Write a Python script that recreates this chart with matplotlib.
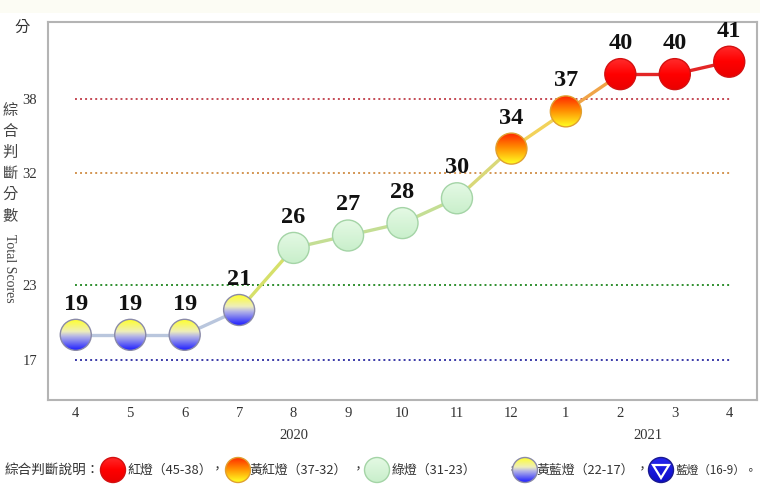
import numpy as np
import matplotlib
matplotlib.use('Agg')
import matplotlib.pyplot as plt
from matplotlib.patches import Ellipse, Polygon, Rectangle
from matplotlib.colors import to_rgb

# data
months = ['4', '5', '6', '7', '8', '9', '10', '11', '12', '1', '2', '3', '4']
scores = [19, 19, 19, 21, 26, 27, 28, 30, 34, 37, 40, 40, 41]
lights = ['yblue', 'yblue', 'yblue', 'yblue', 'green', 'green', 'green', 'green',
          'orange', 'orange', 'red', 'red', 'red']
seg_colors = ['#b9c6dd', '#b9c6dd', '#b9c6dd', '#d6e06a', '#c4de94', '#c4de94',
              '#c4de94', '#d9d878', '#f2d25a', '#f0a448', '#e32626', '#e32626']
years = ['2020', '2021']
year_pos = [4, 10.5]
thresholds = [38, 32, 23, 17]
thr_colors = ['#c44a55', '#d39552', '#2f8f2f', '#3a3aa8']
legend_items = [('red', '紅燈（45-38）'), ('orange', '黃紅燈（37-32）'),
                ('green', '綠燈（31-23）'), ('yblue', '黃藍燈（22-17）'),
                ('blue', '藍燈（16-9）。')]

stops = {
    'red': [(0, '#ff2a2a'), (0.5, '#ff0000'), (1, '#ea0000')],
    'orange': [(0, '#ff2800'), (0.45, '#ff8a00'), (1, '#ffff22')],
    'green': [(0, '#e4f9e4'), (1, '#c9efcb')],
    'yblue': [(0, '#ffff2a'), (0.4, '#eeeebb'), (0.55, '#b8b8e6'), (1, '#2222ff')],
    'blue': [(0, '#2626f0'), (1, '#0c0cc8')],
}
edges = {'red': '#d41010', 'orange': '#e0a030', 'green': '#a4d4a6',
         'yblue': '#8a8aa8', 'blue': '#1a1a90'}


def grad_img(kind, n=64):
    pos = [p for p, c in stops[kind]]
    cols = np.array([to_rgb(c) for p, c in stops[kind]])
    t = np.linspace(0, 1, n)
    img = np.stack([np.interp(t, pos, cols[:, i]) for i in range(3)], axis=-1)
    return img.reshape(n, 1, 3)


def grad_circle(ax, cx, cy, rx, ry, kind, z=5):
    im = ax.imshow(grad_img(kind), extent=(cx - rx, cx + rx, cy - ry, cy + ry),
                   origin='upper', aspect='auto', interpolation='bilinear', zorder=z)
    clip = Ellipse((cx, cy), 2 * rx, 2 * ry, transform=ax.transData)
    im.set_clip_path(clip)
    ax.add_patch(Ellipse((cx, cy), 2 * rx, 2 * ry, facecolor='none',
                         edgecolor=edges[kind], lw=1.0, zorder=z + 0.1))


plt.rcParams['font.family'] = ['Liberation Serif', 'DejaVu Serif']
fig = plt.figure(figsize=(7.6, 4.88), dpi=100)
fig.patches.append(Rectangle((0, 1 - 13 / 488), 1, 13 / 488, transform=fig.transFigure,
                             facecolor='#fcfcf4', edgecolor='none', zorder=0))

ax = fig.add_axes([48 / 760, 1 - 400 / 488, 709 / 760, 378 / 488])
xlim = (-0.51, 12.51)
ylim = (13.75, 44.2)

x = np.arange(len(scores))
for i in range(len(scores) - 1):
    ax.plot(x[i:i + 2], scores[i:i + 2], color=seg_colors[i], lw=2.4,
            solid_capstyle='round', zorder=3)

for t, c in zip(thresholds, thr_colors):
    ax.hlines(t, -0.02, 12.02, colors=c, linestyles=(0, (1, 1.6)), lw=1.4, zorder=2)

rx = 15.5 / 54.4
ry = 15.5 / 12.42
for xi, s, k in zip(x, scores, lights):
    grad_circle(ax, xi, s, rx, ry, k)
    ax.annotate(str(s), (xi, s), xytext=(0, 22), textcoords='offset points',
                ha='center', va='center', fontsize=17.5, fontweight='bold',
                color='#111111', zorder=6)

ax.set_xlim(*xlim)
ax.set_ylim(*ylim)
ax.set_xticks(x)
ax.set_xticklabels(months)
ax.set_yticks(thresholds)
ax.set_yticklabels([str(t) for t in thresholds])
ax.tick_params(length=0, labelsize=10.5, colors='#333333')
ax.tick_params(axis='x', pad=5)
ax.tick_params(axis='y', pad=8)
for sp in ax.spines.values():
    sp.set_color('#b4b4b4')
    sp.set_linewidth(1.5)

for yr, p in zip(years, year_pos):
    ax.text(p, -0.095, yr, transform=ax.get_xaxis_transform(), ha='center', va='center',
            fontsize=10.5, color='#333333')

fig.text(22 / 760, 1 - 27 / 488, '分', ha='center', va='center', fontsize=11,
         color='#333333', family=['Noto Sans CJK TC'])
fig.text(10 / 760, 1 - 163 / 488, '\n'.join('綜合判斷分數'), ha='center', va='center',
         fontsize=11, color='#444444', family=['Noto Sans CJK TC'], linespacing=1.3)
fig.text(9 / 760, 1 - 268 / 488, 'Total Scores', ha='center', va='center',
         rotation=-90, fontsize=10, color='#444444')

# legend row
lax = fig.add_axes([0, 0, 1, 1])
lax.set_xlim(0, 760)
lax.set_ylim(0, 488)
lax.axis('off')
ly = 488 - 470
cjk = ['Noto Sans CJK TC', 'DejaVu Sans']
lax.text(5, ly, '綜合判斷說明：', ha='left', va='center', fontsize=9.8,
         color='#333333', family=cjk)
circ_x = [113, 238, 377, 525, 661]
text_x = [127, 250, 392, 537, 675]
label_fs = [9.3, 9.3, 9.3, 9.3, 8.4]
comma_x = [211, 352, 506, 636]
for i, (k, lab) in enumerate(legend_items):
    grad_circle(lax, circ_x[i], ly, 12.5, 12.5, k)
    if k == 'blue':
        lax.add_patch(Polygon([(circ_x[i] - 8, ly + 5), (circ_x[i] + 8, ly + 5),
                               (circ_x[i], ly - 8)], closed=True, facecolor='none',
                              edgecolor='white', lw=1.6, zorder=6))
    lax.text(text_x[i], ly, lab, ha='left', va='center', fontsize=label_fs[i],
             color='#333333', family=cjk)
for cx in comma_x:
    lax.text(cx, ly, '，', ha='left', va='center', fontsize=9.3, color='#333333',
             family=cjk)

fig.savefig('out.png', dpi=100)
